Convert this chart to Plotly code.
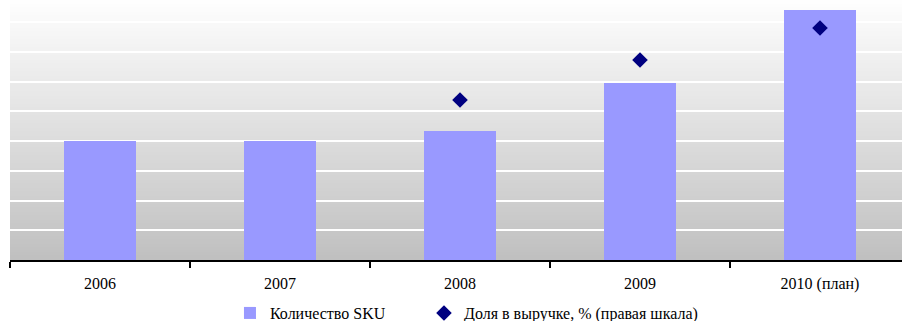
import plotly.graph_objects as go

# Data
years = ["2006", "2007", "2008", "2009", "2010 (план)"]
sku_count = [400, 400, 435, 595, 840]
share_years = ["2008", "2009", "2010 (план)"]
revenue_share = [20, 25, 29]

SERIF = "Liberation Serif"

fig = go.Figure()

fig.add_trace(go.Bar(
    x=years, y=sku_count, name="Количество SKU",
    marker=dict(color="#9999FF", line=dict(width=0)),
    width=0.405, yaxis="y", legend="legend",
))

fig.add_trace(go.Scatter(
    x=share_years, y=revenue_share, name="Доля в выручке, % (правая шкала)",
    mode="markers",
    marker=dict(symbol="diamond", size=12, color="#000080"),
    yaxis="y2", legend="legend2",
))

# Vertical gradient background of the plotting area (white -> silver)
n_bands = 65
top = (254, 254, 254)
bot = (192, 192, 192)
shapes = []
for i in range(n_bands):
    t = (i + 0.5) / n_bands
    c = tuple(round(top[k] + (bot[k] - top[k]) * t) for k in range(3))
    shapes.append(dict(
        type="rect", xref="x domain", yref="y domain",
        x0=0, x1=1, y0=1 - (i + 1) / n_bands, y1=1 - i / n_bands + 0.002,
        fillcolor="rgb(%d,%d,%d)" % c, line=dict(width=0), layer="below",
    ))

legend_font = dict(family=SERIF, size=16, color="black")

fig.update_layout(
    width=902, height=321,
    margin=dict(l=10, r=0, t=0, b=61, autoexpand=False),
    paper_bgcolor="white", plot_bgcolor="white",
    shapes=shapes,
    bargap=0,
    showlegend=True,
    legend=dict(
        orientation="h", x=0.2466, xanchor="left", y=-0.204, yanchor="middle",
        font=legend_font, bgcolor="rgba(0,0,0,0)",
    ),
    legend2=dict(
        orientation="h", x=0.4641, xanchor="left", y=-0.204, yanchor="middle",
        font=legend_font, bgcolor="rgba(0,0,0,0)",
    ),
    xaxis=dict(
        type="category", range=[-0.5, 4.4556],
        tickson="boundaries", ticks="outside", ticklen=6, tickwidth=2,
        tickcolor="black", showline=True, linecolor="black", linewidth=2,
        showgrid=False, ticklabelstandoff=8,
        tickfont=dict(family=SERIF, size=16, color="black"),
    ),
    yaxis=dict(
        range=[0, 875], dtick=100, showgrid=True, gridcolor="white",
        gridwidth=2, zeroline=False, showticklabels=False, ticks="",
    ),
    yaxis2=dict(
        range=[0, 32.5], overlaying="y", side="right", showgrid=False,
        zeroline=False, showticklabels=False, ticks="",
    ),
)

fig.write_html("out.html")
